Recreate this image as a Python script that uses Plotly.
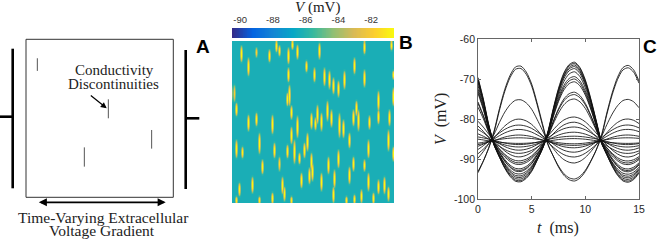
import numpy as np
import plotly.graph_objects as go

W, H = 658, 240


def fx(p):
    return p / W


def fy(p):
    return 1 - p / H


SERIF = "Liberation Serif"
SANS = "Liberation Sans"

# ---------------- Panel A data (coordinates normalised to the tissue box) ----
disc_x = [0.077, 0.559, 0.853, 0.396]
disc_y0 = [0.80, 0.50, 0.308, 0.194]
disc_y1 = [0.88, 0.62, 0.426, 0.316]

# ---------------- Panel B data -------------------------------------------------
cbar_ticks = [-90, -88, -86, -84, -82]
cbar_ticktext = ["-90", "-88", "-86", "-84", "-82"]
v_min, v_max = -90.5, -80.6
v_rest = -86.3
# streaks of depolarisation (x, y-start, y-end in image px; peak mV)
streak_x = [8, 15, 23, 36, 43, 46, 55, 59, 64, 73, 55, 56, 1, 3, 15, 23, 39, 58, 64, 78, 54, 82,
            86, 91, 96, 100, 105, 111, 121, 123, 131, 131, 145, 160, 161, 84, 94, 98, 106, 120, 125, 136, 156, 81, 158,
            3, 9, 26, 29, 41, 46, 49, 51, 54, 58, 61, 66, 68, 71, 74, 78, 79, 6, 19, 26, 39, 58, 76, 3,
            88, 110, 116, 135, 145, 155, 160, 105, 120, 131, 95, 101, 88, 100, 116, 135, 145, 151, 155, 128, 121, 140, 113]
streak_y0 = [5, 17, 7, 9, 0, 5, 7, 0, 4, 20, 27, 44, 44, 62, 74, 72, 74, 65, 75, 72, 52, 77,
             2, 27, 30, 37, 40, 30, 17, 60, 0, 29, 50, 47, 30, 64, 60, 69, 72, 69, 69, 75, 69, 27, 0,
             99, 106, 92, 119, 102, 116, 136, 146, 104, 86, 99, 112, 132, 102, 92, 112, 122, 142, 136, 156, 152, 156, 127, 156,
             72, 79, 92, 99, 69, 89, 106, 109, 116, 119, 116, 129, 132, 146, 126, 132, 139, 136, 146, 149, 154, 152, 156]
streak_y1 = [20, 34, 15, 20, 10, 14, 22, 7, 17, 30, 40, 64, 60, 74, 89, 84, 92, 77, 96, 87, 64, 88,
             17, 44, 47, 52, 55, 47, 32, 74, 12, 45, 69, 64, 37, 82, 79, 85, 96, 84, 89, 87, 84, 40, 8,
             116, 116, 112, 132, 116, 129, 152, 159, 116, 102, 122, 122, 146, 116, 109, 129, 139, 154, 151, 162, 162, 162, 142, 162,
             89, 96, 106, 116, 82, 109, 119, 126, 129, 129, 132, 146, 149, 161, 142, 149, 152, 152, 159, 161, 162, 162, 162]
streak_peak = [-79.8, -80.0, -81.6, -80.1, -80.0, -80.3, -79.8, -80.1, -79.9, -80.3, -80.0, -79.8, -81.8, -80.0,
               -79.9, -80.1, -79.9, -80.0, -79.8, -80.0, -80.1, -80.3,
               -79.9, -80.0, -79.9, -80.0, -80.1, -79.9, -80.0, -80.0, -80.0, -79.9, -80.0, -79.9, -80.3, -80.0,
               -79.9, -80.0, -79.9, -80.0, -80.0, -80.1, -80.0, -80.2, -80.1,
               -80.0, -80.3, -79.9, -80.0, -80.0, -81.4, -79.9, -80.1, -80.0, -80.0, -79.9, -80.1, -80.0, -80.0,
               -79.9, -80.0, -80.0, -80.1, -80.0, -80.2, -80.0, -80.2, -80.0, -80.3,
               -80.0, -79.9, -80.0, -80.0, -80.0, -79.9, -80.0, -80.0, -80.1, -80.3, -80.0, -79.9, -80.0, -80.0,
               -79.9, -80.0, -80.0, -79.9, -80.0, -80.1, -80.2, -80.1, -80.2]

# ---------------- Panel C data -------------------------------------------------
t_ms = [0, 0.5, 1, 1.5, 2, 2.5, 3, 3.5, 4, 4.5, 5, 5.5, 6, 6.5, 7, 7.5, 8, 8.5, 9, 9.5,
        10, 10.5, 11, 11.5, 12, 12.5, 13, 13.5, 14, 14.5, 15]
# normalised oscillation (+1 = phase of the peaks near t = 4 ms)
wave = [-0.80, -0.52, -0.19, 0.12, 0.42, 0.68, 0.87, 0.98, 0.99, 0.91, 0.75, 0.50, 0.22, -0.09,
        -0.39, -0.66, -0.86, -0.97, -1.00, -0.93, -0.77, -0.53, -0.25, 0.06, 0.36, 0.63, 0.84, 0.97,
        1.00, 0.94, 0.79]
# traces in anti-phase (peak near t = 9 ms)
grp1_rest = [-85.0, -85.2, -85.4, -85.1, -85.3, -85.6, -85.0, -85.4, -85.2, -85.5, -85.1, -85.3,
             -84.8, -85.6, -85.0, -85.4, -85.2, -85.6]
grp1_hi = [-65.8, -66.1, -66.5, -66.9, -67.4, -68.2, -69.4, -70.0, -70.7, -73.3, -73.9, -75.0,
           -79.5, -80.8, -82.0, -83.3, -84.3, -84.9]
grp1_lo = [-95.8, -95.5, -95.1, -94.7, -94.3, -93.8, -93.2, -92.9, -92.5, -91.4, -91.0, -90.5,
           -89.5, -88.6, -87.8, -87.0, -86.4, -86.1]
# traces in phase (peaks near t = 4 and 14 ms)
grp2_rest = [-85.2, -85.5, -85.0, -85.4, -84.9, -85.3, -85.6, -85.4]
grp2_hi = [-66.6, -67.2, -75.1, -80.0, -81.5, -82.6, -84.0, -84.7]
grp2_lo = [-95.5, -95.0, -91.0, -89.5, -88.3, -87.2, -86.6, -86.2]

fig = go.Figure()

# ---------------- Panel A ------------------------------------------------------
seg_x, seg_y = [], []
for x, a, b in zip(disc_x, disc_y0, disc_y1):
    seg_x += [x, x, None]
    seg_y += [a, b, None]
fig.add_trace(go.Scatter(x=seg_x, y=seg_y, mode="lines", line=dict(color="#555", width=1),
                         xaxis="x", yaxis="y", showlegend=False, hoverinfo="skip"))

# ---------------- Panel B ------------------------------------------------------
cx, cy = 1.0, 2.0
nx, ny = 162, 81
hx = (np.arange(nx) + 0.5) * cx
hy = (np.arange(ny) + 0.5) * cy
z = np.full((ny, nx), v_rest)
for sx, s0, s1, pk in zip(streak_x, streak_y0, streak_y1, streak_peak):
    c = int(min(max(round(sx / cx), 1), nx - 2))
    yc = (s0 + s1) / 2.0
    hl = (s1 - s0) / 2.0 + 1.5
    prof = np.clip(1 - np.abs((hy - yc) / hl) ** 1.8, 0, 1)
    core = v_rest + (pk - v_rest) * prof
    halo = v_rest + 0.4 * (pk - v_rest) * prof
    z[:, c] = np.maximum(z[:, c], core)
    z[:, c - 1] = np.maximum(z[:, c - 1], halo)
    z[:, c + 1] = np.maximum(z[:, c + 1], halo)
z = np.minimum(z, v_max)

parula = [[0.0, "#352a87"], [0.125, "#0363e1"], [0.25, "#1485d4"], [0.375, "#06a7c6"],
          [0.5, "#38b99e"], [0.625, "#92bf73"], [0.75, "#d9ba56"], [0.875, "#fcce2e"],
          [1.0, "#f9fb0e"]]

fig.add_trace(go.Heatmap(x=hx, y=hy, z=z, colorscale=parula, zmin=v_min, zmax=v_max,
                         zsmooth="best", showscale=False, xaxis="x2", yaxis="y2", hoverinfo="skip"))

cb_vals = np.linspace(v_min, v_max, 200)
fig.add_trace(go.Heatmap(x=cb_vals, y=[0], z=[cb_vals], colorscale=parula, zmin=v_min, zmax=v_max,
                         zsmooth="best", showscale=False, xaxis="x3", yaxis="y3", hoverinfo="skip"))

# ---------------- Panel C ------------------------------------------------------
wave_a = np.array(wave)


def trace_v(sign, rest, hi, lo):
    p = sign * wave_a
    return np.where(p > 0, rest + p * (hi - rest), rest - p * (lo - rest))


for rest, hi, lo in zip(grp1_rest, grp1_hi, grp1_lo):
    fig.add_trace(go.Scatter(x=t_ms, y=trace_v(-1, rest, hi, lo), mode="lines",
                             line=dict(color="#111", width=0.85, shape="spline", smoothing=0.8),
                             xaxis="x4", yaxis="y4", showlegend=False, hoverinfo="skip"))
for rest, hi, lo in zip(grp2_rest, grp2_hi, grp2_lo):
    fig.add_trace(go.Scatter(x=t_ms, y=trace_v(1, rest, hi, lo), mode="lines",
                             line=dict(color="#111", width=0.85, shape="spline", smoothing=0.8),
                             xaxis="x4", yaxis="y4", showlegend=False, hoverinfo="skip"))

# ---------------- Layout -------------------------------------------------------
box_l, box_r, box_t, box_b = 26.0, 173.3, 39.3, 197.3
bw, bh = box_r - box_l, box_b - box_t
hidden = dict(visible=False, showgrid=False, zeroline=False, automargin=False)

layout = dict(
    width=W, height=H, margin=dict(l=0, r=0, t=0, b=0, pad=0, autoexpand=False),
    paper_bgcolor="white", plot_bgcolor="rgba(0,0,0,0)",
    font=dict(family=SANS, size=10, color="#262626"),
    showlegend=False,
    xaxis=dict(domain=[0, fx(210)], range=[(0 - box_l) / bw, (210 - box_l) / bw], anchor="y", **hidden),
    yaxis=dict(domain=[0, 1], range=[(box_b - 240) / bh, box_b / bh], anchor="x", **hidden),
    xaxis2=dict(domain=[fx(232), fx(394)], range=[0, 162], anchor="y2", **hidden),
    yaxis2=dict(domain=[fy(203), fy(41)], range=[162, 0], anchor="x2", **hidden),
    xaxis3=dict(domain=[fx(232), fx(394)], range=[v_min, v_max], side="top", showgrid=False,
                zeroline=False, showline=False, ticks="", tickvals=cbar_ticks, ticktext=cbar_ticktext,
                tickfont=dict(family=SANS, size=9.5, color="#333"), ticklabelstandoff=2,
                automargin=False, anchor="y3"),
    yaxis3=dict(domain=[fy(38), fy(28)], range=[-0.5, 0.5], anchor="x3", **hidden),
    xaxis4=dict(domain=[fx(478), fx(639)], range=[0, 15], showgrid=False, zeroline=False,
                showline=True, linecolor="#666", linewidth=0.8, mirror="ticks", ticks="inside",
                ticklen=3, tickwidth=0.8, tickcolor="#666", tickvals=[0, 5, 10, 15],
                ticktext=["0", "5", "10", "15"], tickfont=dict(family=SANS, size=10.5, color="#262626"),
                anchor="y4", automargin=False),
    yaxis4=dict(domain=[fy(199), fy(39)], range=[-100, -60], showgrid=False, zeroline=False,
                showline=True, linecolor="#666", linewidth=0.8, mirror="ticks", ticks="inside",
                ticklen=3, tickwidth=0.8, tickcolor="#666", tickvals=[-100, -90, -80, -70, -60],
                ticktext=["-100", "-90", "-80", "-70", "-60"],
                tickfont=dict(family=SANS, size=10.5, color="#262626"), anchor="x4", automargin=False),
)
fig.update_layout(**layout)


def bx(p):
    return (p - box_l) / bw


def by(p):
    return (box_b - p) / bh


shapes = [
    dict(type="rect", xref="x", yref="y", x0=0, x1=1, y0=0, y1=1, line=dict(color="#333", width=1)),
    dict(type="line", xref="x", yref="y", x0=bx(12.7), x1=bx(12.7), y0=by(188.3), y1=by(48.7),
         line=dict(color="black", width=2.6)),
    dict(type="line", xref="x", yref="y", x0=bx(0), x1=bx(12.7), y0=by(116.7), y1=by(116.7),
         line=dict(color="black", width=2.6)),
    dict(type="line", xref="x", yref="y", x0=bx(185.7), x1=bx(185.7), y0=by(189), y1=by(50),
         line=dict(color="black", width=2.6)),
    dict(type="line", xref="x", yref="y", x0=bx(185.7), x1=bx(199.3), y0=by(118.3), y1=by(118.3),
         line=dict(color="black", width=2.6)),
]
fig.update_layout(shapes=shapes)

C = dict(xanchor="center", yanchor="middle", showarrow=False)
ann = [
    dict(xref="x", yref="y", x=bx(114), y=by(70), text="Conductivity",
         font=dict(family=SERIF, size=15, color="#222"), **C),
    dict(xref="x", yref="y", x=bx(113.7), y=by(83.5), text="Discontinuities",
         font=dict(family=SERIF, size=15, color="#222"), **C),
    dict(xref="x", yref="y", axref="x", ayref="y", x=bx(106.7), y=by(108.3), ax=bx(89.3), ay=by(94.3),
         text="", showarrow=True, arrowhead=2, arrowsize=1, arrowwidth=1.2, arrowcolor="black"),
    dict(xref="x", yref="y", axref="x", ayref="y", x=bx(165.7), y=by(202.3), ax=bx(37.3), ay=by(202.3),
         text="", showarrow=True, arrowhead=2, arrowside="end+start", arrowsize=0.9, arrowwidth=1.8,
         arrowcolor="black"),
    dict(xref="x", yref="y", x=bx(103.3), y=by(217), text="Time-Varying Extracellular",
         font=dict(family=SERIF, size=15.5, color="#222"), **C),
    dict(xref="x", yref="y", x=bx(101.7), y=by(230.5), text="Voltage Gradient",
         font=dict(family=SERIF, size=15.5, color="#222"), **C),
    # panel letters
    dict(xref="paper", yref="paper", x=fx(202.5), y=fy(46), text="<b>A</b>",
         font=dict(family=SANS, size=19, color="black"), **C),
    dict(xref="paper", yref="paper", x=fx(406), y=fy(42), text="<b>B</b>",
         font=dict(family=SANS, size=19, color="black"), **C),
    dict(xref="paper", yref="paper", x=fx(650), y=fy(46), text="<b>C</b>",
         font=dict(family=SANS, size=19, color="black"), **C),
    # colourbar title
    dict(xref="paper", yref="paper", x=fx(317), y=fy(7.5), text="<i>V</i> (mV)",
         font=dict(family=SERIF, size=15, color="#222"), **C),
    # panel C axis titles
    dict(xref="paper", yref="paper", x=fx(441), y=fy(119), text="<i>V</i>  (mV)",
         textangle=-90, font=dict(family=SERIF, size=16, color="#222"), **C),
    dict(xref="paper", yref="paper", x=fx(558), y=fy(228), text="<i>t</i>  (ms)",
         font=dict(family=SERIF, size=16, color="#222"), **C),
]
fig.update_layout(annotations=ann)

fig.write_html("out.html", config={"displayModeBar": False},
               post_script="document.body.style.margin='0px';")
